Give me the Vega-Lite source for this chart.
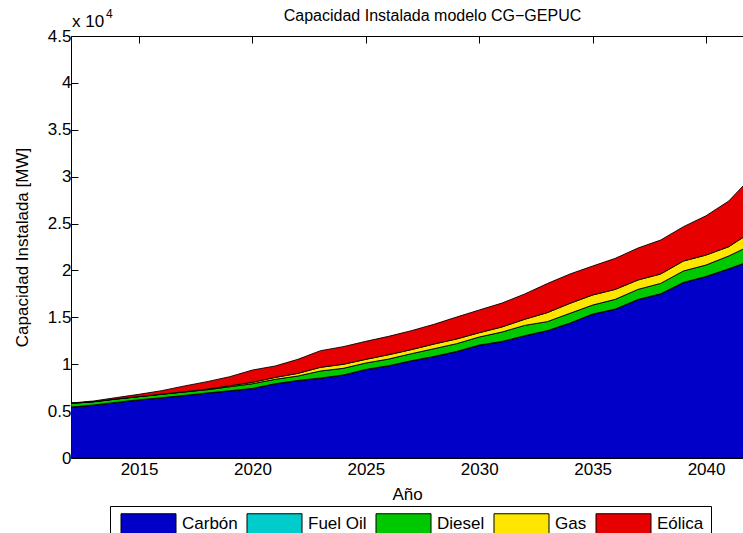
{
  "$schema": "https://vega.github.io/schema/vega-lite/v6.json",
  "autosize": {"type": "none"},
  "width": 672,
  "height": 422,
  "padding": {"left": 71, "top": 36, "right": 0, "bottom": 75},
  "background": "white",
  "config": {
    "font": "Liberation Sans",
    "view": {"stroke": null},
    "axis": {
      "grid": false,
      "domainColor": "black",
      "domainWidth": 1,
      "tickColor": "black",
      "tickWidth": 1,
      "tickSize": -7,
      "labelColor": "black",
      "labelFont": "Liberation Sans",
      "labelFontSize": 17,
      "titleColor": "black",
      "titleFont": "Liberation Sans",
      "titleFontSize": 17,
      "titleFontWeight": "normal"
    }
  },
  "datasets": {
    "capacidad": [
      {"year": 2012, "Carbón": 5400, "Fuel Oil": 30, "Diesel": 400, "Gas": 0, "Eólica": 30},
      {"year": 2013, "Carbón": 5620, "Fuel Oil": 30, "Diesel": 350, "Gas": 0, "Eólica": 80},
      {"year": 2014, "Carbón": 5900, "Fuel Oil": 30, "Diesel": 360, "Gas": 0, "Eólica": 150},
      {"year": 2015, "Carbón": 6180, "Fuel Oil": 30, "Diesel": 330, "Gas": 10, "Eólica": 240},
      {"year": 2016, "Carbón": 6400, "Fuel Oil": 30, "Diesel": 360, "Gas": 20, "Eólica": 370},
      {"year": 2017, "Carbón": 6640, "Fuel Oil": 30, "Diesel": 370, "Gas": 30, "Eólica": 610},
      {"year": 2018, "Carbón": 6900, "Fuel Oil": 30, "Diesel": 350, "Gas": 60, "Eólica": 800},
      {"year": 2019, "Carbón": 7140, "Fuel Oil": 30, "Diesel": 430, "Gas": 100, "Eólica": 970},
      {"year": 2020, "Carbón": 7390, "Fuel Oil": 30, "Diesel": 500, "Gas": 150, "Eólica": 1310},
      {"year": 2021, "Carbón": 7890, "Fuel Oil": 30, "Diesel": 470, "Gas": 200, "Eólica": 1220},
      {"year": 2022, "Carbón": 8240, "Fuel Oil": 30, "Diesel": 470, "Gas": 280, "Eólica": 1500},
      {"year": 2023, "Carbón": 8500, "Fuel Oil": 30, "Diesel": 750, "Gas": 390, "Eólica": 1770},
      {"year": 2024, "Carbón": 8820, "Fuel Oil": 30, "Diesel": 710, "Gas": 430, "Eólica": 1880},
      {"year": 2025, "Carbón": 9420, "Fuel Oil": 30, "Diesel": 680, "Gas": 390, "Eólica": 1920},
      {"year": 2026, "Carbón": 9810, "Fuel Oil": 30, "Diesel": 710, "Gas": 460, "Eólica": 1960},
      {"year": 2027, "Carbón": 10340, "Fuel Oil": 30, "Diesel": 750, "Gas": 430, "Eólica": 2020},
      {"year": 2028, "Carbón": 10800, "Fuel Oil": 30, "Diesel": 820, "Gas": 500, "Eólica": 2100},
      {"year": 2029, "Carbón": 11330, "Fuel Oil": 30, "Diesel": 830, "Gas": 500, "Eólica": 2340},
      {"year": 2030, "Carbón": 12010, "Fuel Oil": 30, "Diesel": 860, "Gas": 460, "Eólica": 2420},
      {"year": 2031, "Carbón": 12400, "Fuel Oil": 30, "Diesel": 1000, "Gas": 540, "Eólica": 2550},
      {"year": 2032, "Carbón": 13010, "Fuel Oil": 30, "Diesel": 1100, "Gas": 650, "Eólica": 2690},
      {"year": 2033, "Carbón": 13550, "Fuel Oil": 30, "Diesel": 960, "Gas": 960, "Eólica": 3100},
      {"year": 2034, "Carbón": 14360, "Fuel Oil": 30, "Diesel": 1040, "Gas": 1060, "Eólica": 3130},
      {"year": 2035, "Carbón": 15320, "Fuel Oil": 30, "Diesel": 960, "Gas": 1070, "Eólica": 3090},
      {"year": 2036, "Carbón": 15850, "Fuel Oil": 30, "Diesel": 1040, "Gas": 1060, "Eólica": 3310},
      {"year": 2037, "Carbón": 16880, "Fuel Oil": 30, "Diesel": 1070, "Gas": 1000, "Eólica": 3410},
      {"year": 2038, "Carbón": 17480, "Fuel Oil": 30, "Diesel": 1110, "Gas": 1000, "Eólica": 3620},
      {"year": 2039, "Carbón": 18690, "Fuel Oil": 30, "Diesel": 1220, "Gas": 1060, "Eólica": 3660},
      {"year": 2040, "Carbón": 19330, "Fuel Oil": 30, "Diesel": 1220, "Gas": 1060, "Eólica": 4190},
      {"year": 2041, "Carbón": 20150, "Fuel Oil": 30, "Diesel": 1360, "Gas": 990, "Eólica": 4870},
      {"year": 2042, "Carbón": 21000, "Fuel Oil": 30, "Diesel": 1670, "Gas": 1400, "Eólica": 5840}
    ],
    "fuentes": [
      {"fuente": "Carbón", "orden": 1},
      {"fuente": "Fuel Oil", "orden": 2},
      {"fuente": "Diesel", "orden": 3},
      {"fuente": "Gas", "orden": 4},
      {"fuente": "Eólica", "orden": 5}
    ]
  },
  "layer": [
    {
      "data": {"name": "capacidad"},
      "transform": [
        {"fold": ["Carbón", "Fuel Oil", "Diesel", "Gas", "Eólica"], "as": ["fuente", "mw"]},
        {"lookup": "fuente", "from": {"data": {"name": "fuentes"}, "key": "fuente", "fields": ["orden"]}}
      ],
      "mark": {"type": "area", "stroke": "black", "strokeWidth": 0.9, "opacity": 1, "clip": true, "interpolate": "linear"},
      "encoding": {
        "x": {
          "field": "year",
          "type": "quantitative",
          "scale": {"domain": [2012, 2041.63], "nice": false, "zero": false},
          "axis": {
            "orient": "bottom",
            "values": [2015, 2020, 2025, 2030, 2035, 2040],
            "format": "d",
            "labelFlush": false,
            "labelPadding": 10,
            "title": "Año",
            "titleBaseline": "alphabetic",
            "titleY": 41
          }
        },
        "y": {
          "field": "mw",
          "type": "quantitative",
          "stack": "zero",
          "scale": {"domain": [0, 45000], "nice": false},
          "axis": {
            "values": [0, 5000, 10000, 15000, 20000, 25000, 30000, 35000, 40000, 45000],
            "labelExpr": "datum.value / 10000 + ''",
            "labelPadding": 7,
            "title": "Capacidad Instalada [MW]",
            "titleAngle": -90,
            "titleBaseline": "alphabetic",
            "titleX": -44
          }
        },
        "color": {
          "field": "fuente",
          "type": "nominal",
          "scale": {
            "domain": ["Carbón", "Fuel Oil", "Diesel", "Gas", "Eólica"],
            "range": ["#0000C8", "#00CCCC", "#00C800", "#FFE600", "#E60000"]
          },
          "legend": {
            "orient": "none",
            "legendX": 39,
            "legendY": 470,
            "direction": "horizontal",
            "columns": 5,
            "title": null,
            "padding": 7,
            "strokeColor": "black",
            "fillColor": "white",
            "symbolType": "M-2.75,-1H2.75V1H-2.75Z",
            "symbolSize": 400,
            "symbolOffset": 21,
            "symbolStrokeColor": "black",
            "symbolStrokeWidth": 1,
            "symbolOpacity": 1,
            "labelFont": "Liberation Sans",
            "labelFontSize": 17,
            "labelColor": "black",
            "labelOffset": 23,
            "columnPadding": 5
          }
        },
        "order": {"field": "orden", "type": "quantitative"}
      }
    },
    {
      "data": {"name": "capacidad"},
      "mark": {"type": "rule", "strokeOpacity": 0},
      "encoding": {
        "x": {
          "field": "year",
          "type": "quantitative",
          "axis": {
            "orient": "top",
            "values": [2015, 2020, 2025, 2030, 2035, 2040],
            "labels": false,
            "title": "Capacidad Instalada modelo CG−GEPUC",
            "titleFontSize": 16,
            "titleAnchor": "start",
            "titleAlign": "center",
            "titleBaseline": "alphabetic",
            "titleX": 361,
            "titleY": -16
          }
        }
      }
    },
    {
      "data": {"values": [{}]},
      "mark": {"type": "text", "text": "x 10", "align": "left", "baseline": "alphabetic", "dx": 1, "dy": -9, "fontSize": 17, "color": "black", "font": "Liberation Sans"},
      "encoding": {
        "x": {"datum": 2012, "type": "quantitative", "axis": null},
        "y": {"datum": 45000, "type": "quantitative"}
      }
    },
    {
      "data": {"values": [{}]},
      "mark": {"type": "text", "text": "4", "align": "left", "baseline": "alphabetic", "dx": 35, "dy": -18, "fontSize": 12, "color": "black", "font": "Liberation Sans"},
      "encoding": {
        "x": {"datum": 2012, "type": "quantitative", "axis": null},
        "y": {"datum": 45000, "type": "quantitative"}
      }
    }
  ],
  "resolve": {"axis": {"x": "independent"}}
}
